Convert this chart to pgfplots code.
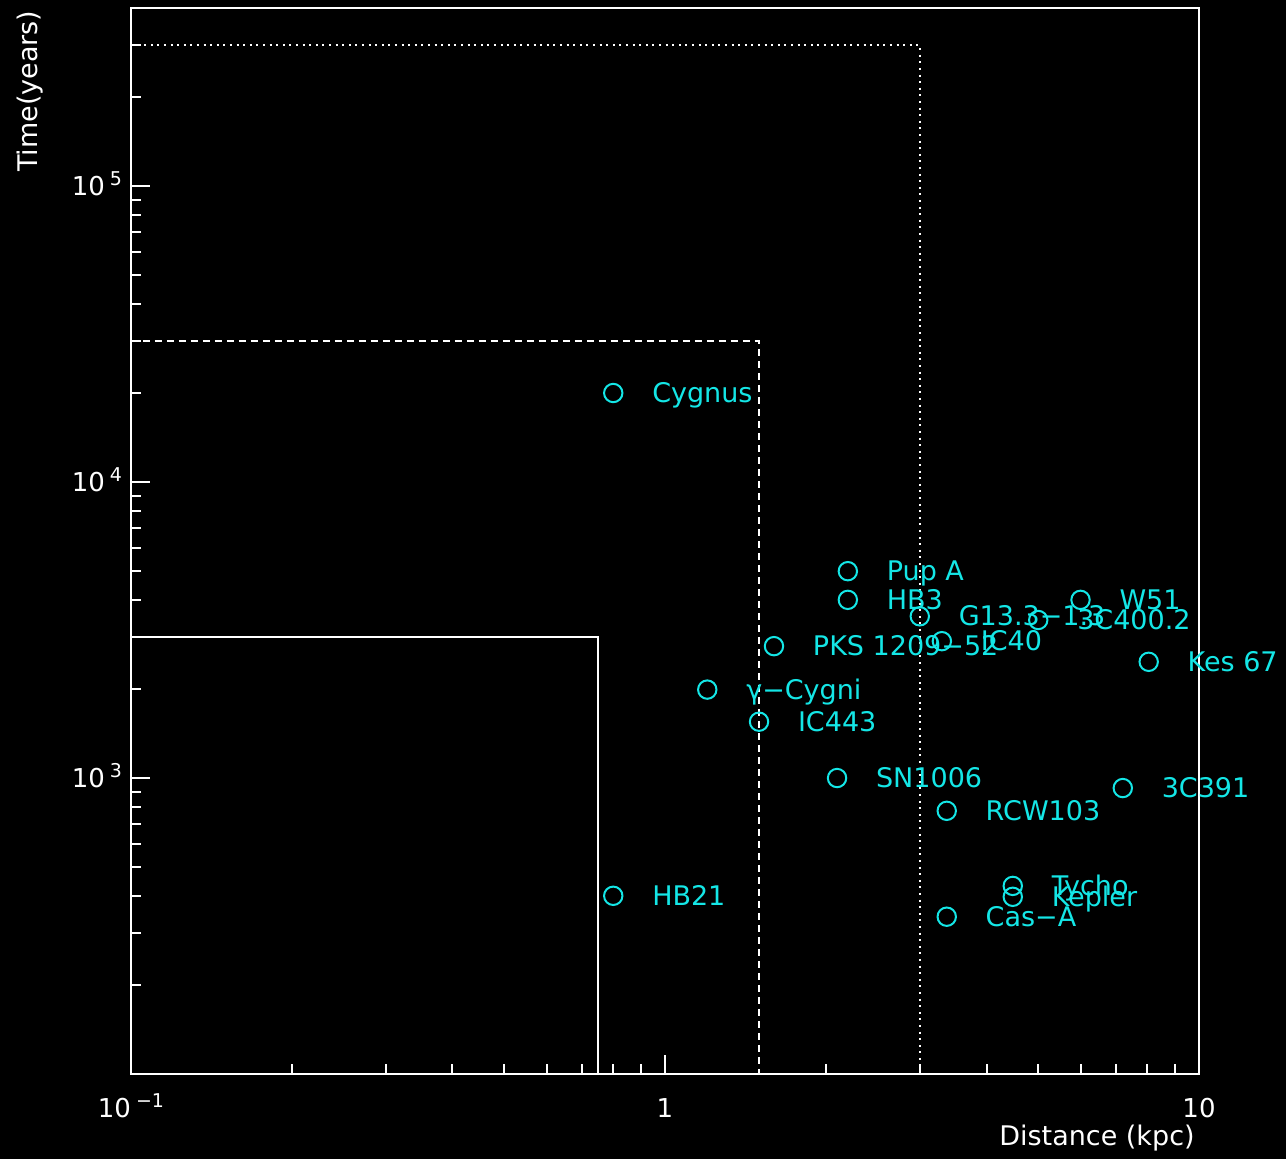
\documentclass[border=0pt]{standalone}
\usepackage{pgfplots}
\pgfplotsset{compat=1.18}
\usepackage{fontspec}
\setmainfont{DejaVu Sans}
\definecolor{cyanc}{RGB}{20,230,230}
\newcommand{\ex}[1]{10\hspace{2.5pt}\smash{\raisebox{4.8pt}{\fontsize{9.5}{10}\selectfont #1}}}
\begin{document}
\begin{tikzpicture}
\fill[black] (-65.5pt,-42.5pt) rectangle (577.5pt,537pt);
\path[use as bounding box] (-65.5pt,-42.5pt) rectangle (577.5pt,537pt);
\begin{axis}[
  at={(0,0)}, anchor=south west,
  width=534pt, height=533pt, scale only axis,
  xmode=log, ymode=log,
  xmin=0.1, xmax=10, ymin=100, ymax=4e5,
  clip=false,
  axis line style={white, line width=1.3pt},
  tick align=inside,
  xtick pos=left, ytick pos=left,
  major tick length=9.5pt, minor tick length=5pt,
  tick style={white, line width=1pt},
  xtick={0.1,1,10},
  xticklabels={\ex{−1},1,10},
  minor xtick={0.2,0.3,0.4,0.5,0.6,0.7,0.8,0.9,2,3,4,5,6,7,8,9},
  ytick={1000,10000,100000},
  yticklabels={\ex{3},\ex{4},\ex{5}},
  minor ytick={200,300,400,500,600,700,800,900,2000,3000,4000,5000,6000,7000,8000,9000,20000,30000,40000,50000,60000,70000,80000,90000,200000,300000},
  ticklabel style={text=white, font=\fontsize{13}{15}\selectfont},
  xticklabel style={yshift=-8.5pt},
  yticklabel style={xshift=-1pt},
  xlabel={Distance (kpc)},
  ylabel={Time(years)},
  label style={text=white, font=\fontsize{13.5}{16}\selectfont, inner sep=0pt},
  xlabel style={at={(rel axis cs:0.9963,-0.060)}, anchor=east},
  ylabel style={at={(rel axis cs:-0.0946,0.998)}, anchor=east},
]
% solid, dashed, dotted boxes
\addplot[white, line width=1pt] coordinates {(0.1,3000) (0.75,3000) (0.75,100)};
\addplot[white, line width=1pt, dash pattern=on 3.5pt off 2.5pt] coordinates {(0.1,30000) (1.5,30000) (1.5,100)};
\addplot[white, line width=1pt, dash pattern=on 1pt off 2.3pt] coordinates {(0.1,300000) (3,300000) (3,100)};
% supernova remnants
\addplot[only marks, mark=o, mark size=4.6pt,
  mark options={draw=cyanc, line width=1pt},
  nodes near coords, point meta=explicit symbolic,
  nodes near coords style={anchor=base west, xshift=19pt, yshift=-4.8pt,
    text=cyanc, inner sep=0pt, font=\fontsize{13.5}{15}\selectfont}]
table[meta=label] {
x y label
0.8 20000 Cygnus
2.2 5000 {Pup A}
2.2 4000 HB3
3.0 3520 {G13.3−1.3}
6.0 4000 W51
5.0 3420 3C400.2
3.3 2900 IC40
1.6 2790 {PKS 1209−52}
8.05 2470 {Kes 67}
1.2 1990 {γ−Cygni}
1.5 1550 IC443
2.1 1000 SN1006
3.37 775 RCW103
7.2 925 3C391
0.8 400 HB21
4.48 432 Tycho
4.48 397 Kepler
3.37 340 {Cas−A}
};
\end{axis}
\end{tikzpicture}
\end{document}
